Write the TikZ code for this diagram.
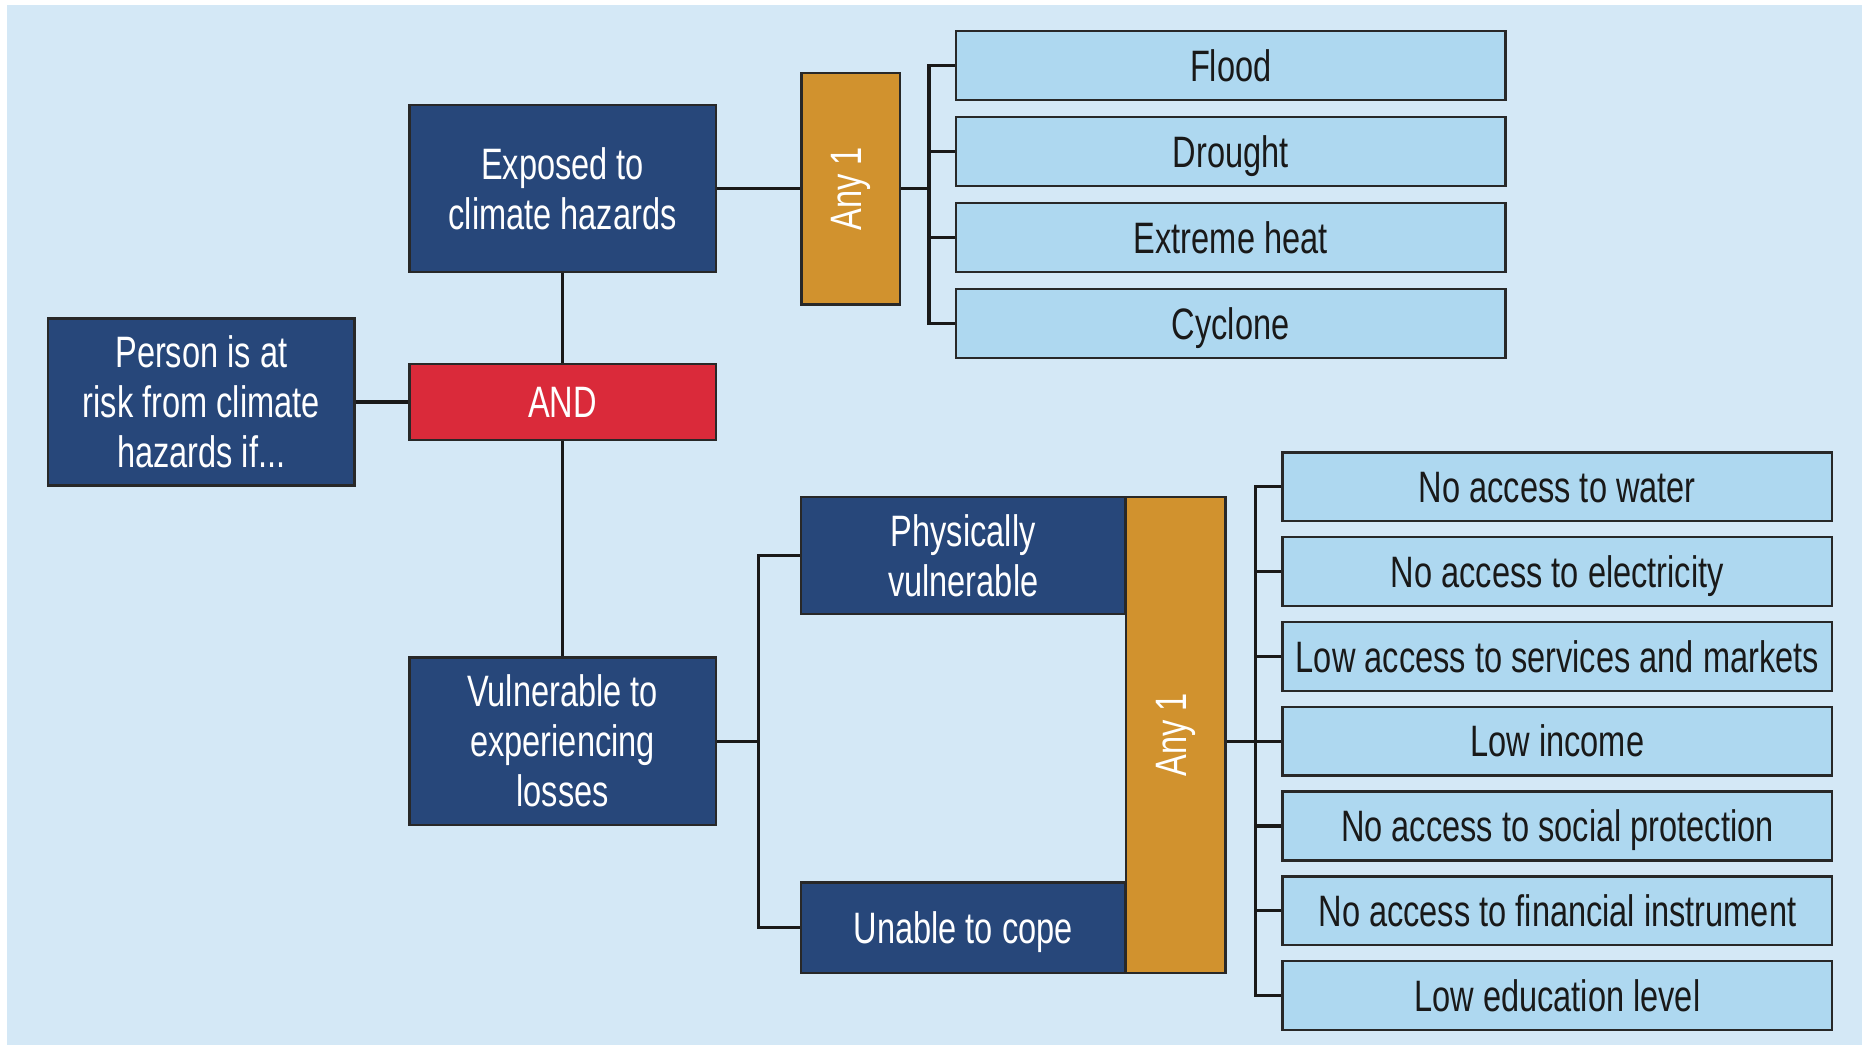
\documentclass[tikz,border=0pt]{standalone}
\usepackage{fontspec}
\setmainfont{Liberation Sans}[FakeStretch=0.74]

\definecolor{bgblue}{RGB}{212,232,246}
\definecolor{navy}{RGB}{39,71,122}
\definecolor{andred}{RGB}{218,42,58}
\definecolor{gold}{RGB}{209,146,46}
\definecolor{skyfill}{RGB}{174,216,240}
\definecolor{edge}{RGB}{40,40,40}

\newcommand{\boxfont}{\fontsize{22}{25}\selectfont}

\tikzstyle{darkblock} = [rectangle, minimum width=5.38cm, minimum height=2.94cm,
text centered, align=center, inner sep=2pt, draw=edge, line width=1.2pt,
fill=navy, text=white, font=\boxfont]
\tikzstyle{andblock} = [darkblock, minimum height=1.34cm, fill=andred]
\tikzstyle{physblock} = [darkblock, minimum width=5.70cm, minimum height=2.06cm]
\tikzstyle{copeblock} = [darkblock, minimum width=5.70cm, minimum height=1.59cm,
text height=15.8pt, text depth=0pt]
\tikzstyle{anytopblock} = [rectangle, minimum width=1.73cm, minimum height=4.07cm,
text centered, inner sep=0pt, draw=edge, line width=1.2pt, fill=gold,
text=white, font=\boxfont]
\tikzstyle{anybotblock} = [anytopblock, minimum width=1.75cm, minimum height=8.37cm]
\tikzstyle{itemblock} = [rectangle, minimum width=9.66cm, minimum height=1.21cm,
text centered, inner sep=2pt, draw=edge, line width=1.2pt, fill=skyfill,
text=black!90, font=\boxfont, text height=15.8pt, text depth=0pt]
\tikzstyle{link} = [line width=1.6pt, draw=black!90]

\begin{document}
\begin{tikzpicture}
    \useasboundingbox (-3.537,-11.300) rectangle (29.183,7.064);
    \fill [bgblue] (-3.414,-11.300) rectangle (29.183,6.977);
    % Root and the AND gate
    \node (person) [darkblock] {Person is at\\risk from climate\\hazards if...};
    \node (and) [andblock, right of=person, xshift=5.35cm] {AND};
    \node (exposed) [darkblock, above of=and, yshift=2.75cm] {Exposed to\\climate hazards};
    \node (vuln) [darkblock, below of=and, yshift=-4.96cm] {Vulnerable to\\experiencing\\losses};
    % Hazards
    \node (anytop) [anytopblock, right of=exposed, xshift=4.06cm] {\rotatebox{90}{Any 1}};
    \node (flood) [itemblock, right of=anytop, xshift=5.68cm, yshift=2.16cm] {Flood};
    \node (drought) [itemblock, below of=flood, yshift=-0.51cm] {Drought};
    \node (heat) [itemblock, below of=drought, yshift=-0.51cm] {Extreme heat};
    \node (cyclone) [itemblock, below of=heat, yshift=-0.51cm] {Cyclone};
    % Vulnerability
    \node (phys) [physblock, right of=vuln, xshift=6.04cm, yshift=3.26cm] {Physically\\vulnerable};
    \node (cope) [copeblock, right of=vuln, xshift=6.04cm, yshift=-3.28cm] {Unable to cope};
    \node (anybot) [anybotblock, right of=vuln, xshift=9.77cm, yshift=0.11cm] {\rotatebox{90}{Any 1}};
    % Factors
    \node (income) [itemblock, right of=vuln, xshift=16.48cm] {Low income};
    \node (services) [itemblock, above of=income, yshift=0.49cm] {Low access to services and markets};
    \node (electricity) [itemblock, above of=services, yshift=0.49cm] {No access to electricity};
    \node (water) [itemblock, above of=electricity, yshift=0.49cm] {No access to water};
    \node (social) [itemblock, below of=income, yshift=-0.49cm] {No access to social protection};
    \node (financial) [itemblock, below of=social, yshift=-0.49cm] {No access to financial instrument};
    \node (education) [itemblock, below of=financial, yshift=-0.49cm] {Low education level};
    % Connections
    \draw [link] (person) -- (and);
    \draw [link] (exposed) -- (and);
    \draw [link] (and) -- (vuln);
    \draw [link] (exposed.east) -- (exposed.east -| anytop.west);
    \draw [link] (anytop.east) -- ++(0.49,0) coordinate (hzbus);
    \draw [link] (flood.west) -| (hzbus) |- (cyclone.west);
    \draw [link] (drought.west) -- (drought.west -| hzbus);
    \draw [link] (heat.west) -- (heat.west -| hzbus);
    \draw [link] (vuln.east) -- ++(0.73,0) coordinate (vbus);
    \draw [link] (phys.west) -| (vbus) |- (cope.west);
    \draw [link] (anybot.east |- income.west) -- ++(0.51,0) coordinate (fbus);
    \draw [link] (water.west) -| (fbus) |- (education.west);
    \draw [link] (electricity.west) -- (electricity.west -| fbus);
    \draw [link] (services.west) -- (services.west -| fbus);
    \draw [link] (income.west) -- (fbus);
    \draw [link] (social.west) -- (social.west -| fbus);
    \draw [link] (financial.west) -- (financial.west -| fbus);
\end{tikzpicture}
\end{document}
